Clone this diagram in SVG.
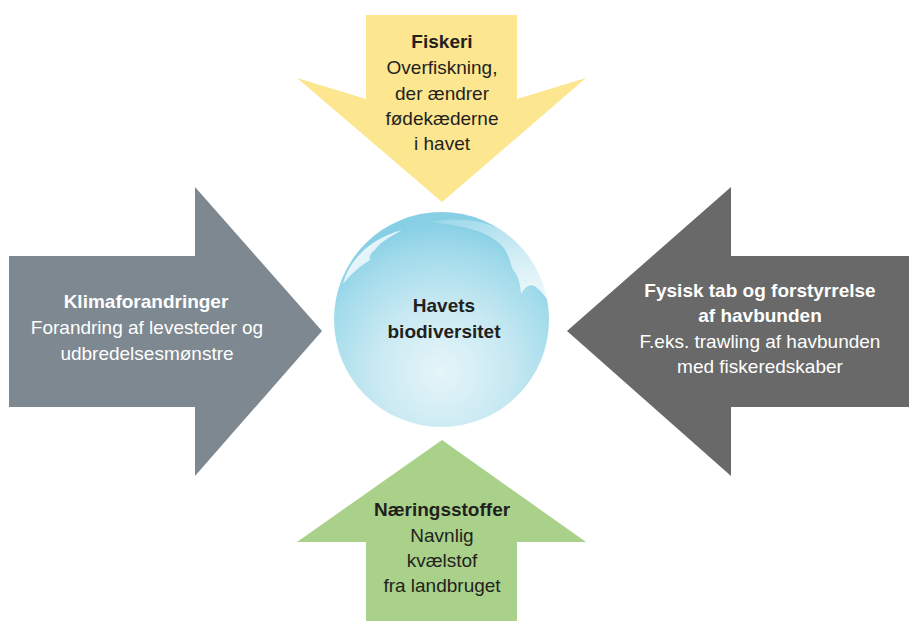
<svg xmlns="http://www.w3.org/2000/svg" width="909" height="621" viewBox="0 0 909 621">
<defs>
<radialGradient id="sph" cx="441" cy="372" r="150" fx="441" fy="372" gradientUnits="userSpaceOnUse">
<stop offset="0" stop-color="#e6f5f9"/>
<stop offset="0.45" stop-color="#c8e9f2"/>
<stop offset="0.8" stop-color="#a2dbeb"/>
<stop offset="1" stop-color="#86cfe5"/>
</radialGradient>
<linearGradient id="hl" x1="0" y1="0" x2="1" y2="1">
<stop offset="0" stop-color="#ffffff" stop-opacity="0.95"/>
<stop offset="1" stop-color="#ffffff" stop-opacity="0.5"/>
</linearGradient>
<linearGradient id="hr" x1="0" y1="0" x2="1" y2="1">
<stop offset="0" stop-color="#ffffff" stop-opacity="0.15"/>
<stop offset="0.6" stop-color="#ffffff" stop-opacity="0.6"/>
<stop offset="1" stop-color="#ffffff" stop-opacity="0.85"/>
</linearGradient>
</defs>
<style>
text{font-family:"Liberation Sans",Arial,sans-serif;font-size:19px;text-anchor:middle}
.b{font-weight:bold}
.dk{fill:#231f20}
.wt{fill:#ffffff}
</style>
<g id="connectors"/>
<g id="fiskeri">
<polygon points="366,15 517,15 517,99 586,78 442,202 297,78 366,99" fill="#fce690"/>
<text class="dk b" x="442" y="48">Fiskeri</text>
<text class="dk" x="442" y="74">Overfiskning,</text>
<text class="dk" x="442" y="100">der ændrer</text>
<text class="dk" x="442" y="125">fødekæderne</text>
<text class="dk" x="442" y="150">i havet</text>
</g>
<g id="klima">
<polygon points="9,256 195,256 195,187 322,331 195,476 195,407 9,407" fill="#7e8890"/>
<text class="wt b" x="146" y="308">Klimaforandringer</text>
<text class="wt" x="147" y="334">Forandring af levesteder og</text>
<text class="wt" x="147" y="360">udbredelsesmønstre</text>
</g>
<g id="fysisk">
<polygon points="909,256 731,256 731,187 567,331 731,476 731,407 909,407" fill="#686968"/>
<text class="wt b" x="760" y="297">Fysisk tab og forstyrrelse</text>
<text class="wt b" x="760" y="322">af havbunden</text>
<text class="wt" x="760" y="348">F.eks. trawling af havbunden</text>
<text class="wt" x="760" y="373">med fiskeredskaber</text>
</g>
<g id="naering">
<polygon points="442,440 586,542 517,542 517,621 366,621 366,542 297,542" fill="#a9d189"/>
<text class="dk b" x="442" y="516">Næringsstoffer</text>
<text class="dk" x="442" y="542">Navnlig</text>
<text class="dk" x="442" y="567">kvælstof</text>
<text class="dk" x="442" y="592">fra landbruget</text>
</g>
<g id="havets">
<circle cx="441.5" cy="319.5" r="107.5" fill="url(#sph)"/>
<path d="M343,284 C350,258 372,238 402,230 C388,238 378,244 375,250 C370,253 369,258 370,260 C360,266 350,275 343,284 Z" fill="url(#hl)"/>
<path d="M430,222 C470,214 510,225 535,255 C546,272 551,290 549,302 C545,296 540,290 537,288 C532,283 526,285 521,294 C520,282 518,275 513,270 C510,262 508,252 502,246 C492,234 470,226 430,222 Z" fill="url(#hr)"/>
<text class="dk b" x="444" y="312">Havets</text>
<text class="dk b" x="444" y="338">biodiversitet</text>
</g>
</svg>
